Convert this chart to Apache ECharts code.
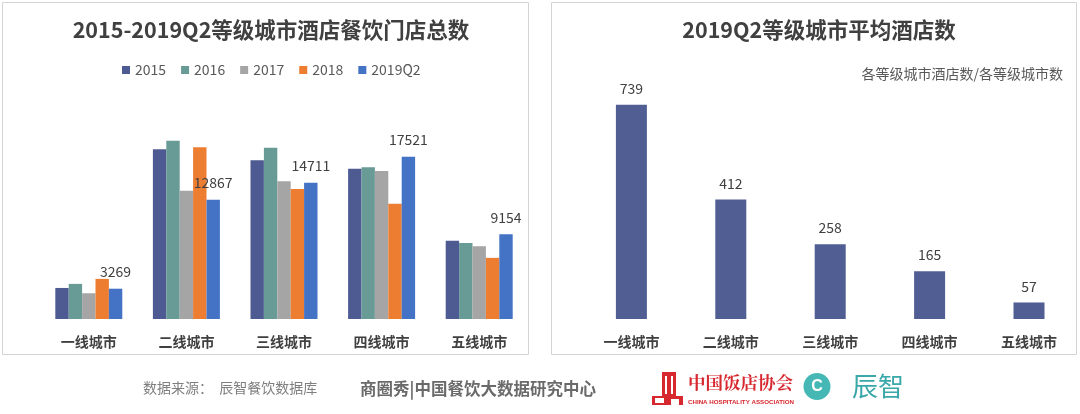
<!DOCTYPE html>
<html><head><meta charset="utf-8">
<script src="https://cdn.jsdelivr.net/npm/echarts@6/dist/echarts.min.js"></script>
<style>html,body{margin:0;padding:0;background:#fff}#c{width:1080px;height:414px}</style>
</head><body><div id="c"></div>
<script>
const categories = ['一线城市','二线城市','三线城市','四线城市','五线城市'];
const seriesNames = ['2015','2016','2017','2018','2019Q2'];
const v2015   = [3350, 18320, 17130, 16220, 8440];
const v2016   = [3790, 19250, 18490, 16370, 8190];
const v2017   = [2780, 13840, 14860, 15970, 7860];
const v2018   = [4330, 18540, 14030, 12440, 6600];
const v2019Q2 = [3269, 12867, 14711, 17521, 9154];
const avgHotels = [739, 412, 258, 165, 57];

const leftTitle = '2015-2019Q2等级城市酒店餐饮门店总数';
const rightTitle = '2019Q2等级城市平均酒店数';
const rightSub = '各等级城市酒店数/各等级城市数';

const F = '"Noto Sans CJK SC", "Noto Sans", sans-serif';
const colors = ['#4e5b92', '#689a96', '#a5a5a5', '#ed7d31', '#4472c4'];
const leftValues = [v2015, v2016, v2017, v2018, v2019Q2];

const chart = echarts.init(document.getElementById('c'), null, {renderer: 'canvas'});

const leftSeries = seriesNames.map((n, i) => ({
  name: n, type: 'bar', xAxisIndex: 0, yAxisIndex: 0,
  data: leftValues[i], barWidth: 13.4, barGap: '0%',
  itemStyle: {color: colors[i]},
  label: i === 4 ? {show: true, position: 'top', distance: 10, color: '#404040', fontSize: 14, fontFamily: F} : {show: false},
  emphasis: {disabled: true}
}));

chart.setOption({
  animation: false,
  textStyle: {fontFamily: F},
  title: [
    {text: leftTitle, left: 266, top: 14, textAlign: 'center',
     textStyle: {fontSize: 21.5, fontWeight: 'bold', color: '#404040', fontFamily: F}},
    {text: rightTitle, left: 814, top: 14, textAlign: 'center',
     textStyle: {fontSize: 21.5, fontWeight: 'bold', color: '#404040', fontFamily: F}},
    {text: rightSub, right: 12, top: 62,
     textStyle: {fontSize: 14, fontWeight: 'normal', color: '#595959', fontFamily: F}}
  ],
  legend: {
    data: seriesNames, left: 117, top: 58, icon: 'rect', itemWidth: 8, itemHeight: 8, itemGap: 15,
    textStyle: {fontSize: 14, color: '#595959', fontFamily: F}, selectedMode: false
  },
  grid: [
    {left: 40, width: 488, top: 133.7, height: 185.3},
    {left: 581.7, width: 497, top: 87, height: 232}
  ],
  xAxis: [
    {type: 'category', gridIndex: 0, data: categories,
     axisLine: {show: false}, axisTick: {show: false},
     axisLabel: {margin: 16, fontSize: 14, fontWeight: 'bold', color: '#404040', fontFamily: F}},
    {type: 'category', gridIndex: 1, data: categories,
     axisLine: {show: false}, axisTick: {show: false},
     axisLabel: {margin: 16, fontSize: 14, fontWeight: 'bold', color: '#404040', fontFamily: F}}
  ],
  yAxis: [
    {type: 'value', gridIndex: 0, min: 0, max: 20000, show: false, splitLine: {show: false}},
    {type: 'value', gridIndex: 1, min: 0, max: 800, show: false, splitLine: {show: false}}
  ],
  series: leftSeries.concat([{
    name: 'avg', type: 'bar', xAxisIndex: 1, yAxisIndex: 1, data: avgHotels,
    barWidth: 31, itemStyle: {color: '#505e94'},
    label: {show: true, position: 'top', distance: 9, color: '#404040', fontSize: 14, fontFamily: F},
    emphasis: {disabled: true}
  }]),
  graphic: [
    {type: 'rect', shape: {x: 2.5, y: 2.5, width: 526, height: 352}, silent: true, z: -1,
     style: {fill: 'none', stroke: '#d4d4d4', lineWidth: 1}},
    {type: 'rect', shape: {x: 551.5, y: 2.5, width: 525, height: 352}, silent: true, z: -1,
     style: {fill: 'none', stroke: '#d4d4d4', lineWidth: 1}},
    {type: 'text', left: 143, top: 381, silent: true,
     style: {text: '数据来源：  辰智餐饮数据库', fontSize: 14, fill: '#7f7f7f', fontFamily: F}},
    {type: 'text', left: 360, top: 380, silent: true,
     style: {text: '商圈秀|中国餐饮大数据研究中心', fontSize: 16.5, fontWeight: 'bold', fill: '#6a6a6a', fontFamily: F}},
    {type: 'group', silent: true, children: [
      {type: 'rect', shape: {x: 662, y: 372, width: 14, height: 24}, style: {fill: '#d7282f'}},
      {type: 'rect', shape: {x: 665, y: 376, width: 2, height: 18}, style: {fill: '#fff'}},
      {type: 'rect', shape: {x: 671, y: 376, width: 2, height: 18}, style: {fill: '#fff'}},
      {type: 'rect', shape: {x: 652, y: 396, width: 31, height: 9}, style: {fill: '#d7282f'}},
      {type: 'rect', shape: {x: 655, y: 398, width: 9, height: 5}, style: {fill: '#fff'}},
      {type: 'rect', shape: {x: 671, y: 399, width: 8, height: 6}, style: {fill: '#fff'}}
    ]},
    {type: 'text', left: 688, top: 374, silent: true,
     style: {text: '中国饭店协会', fontSize: 17.5, fontWeight: 'bold', fill: '#d7282f', fontFamily: '"Noto Serif CJK SC", "Noto Sans CJK SC", serif'}},
    {type: 'text', left: 688, top: 399, silent: true,
     style: {text: 'CHINA HOSPITALITY ASSOCIATION', fontSize: 6.2, fontWeight: 'bold', fill: '#d7282f', fontFamily: '"Liberation Sans", sans-serif'}},
    {type: 'circle', shape: {cx: 817, cy: 386.5, r: 13.5}, silent: true, style: {fill: '#45b8b5'}},
    {type: 'text', x: 817, y: 387, silent: true,
     style: {text: 'C', fontSize: 16, fontWeight: 'bold', fill: '#fff', align: 'center', verticalAlign: 'middle', fontFamily: '"Liberation Sans", sans-serif'}},
    {type: 'text', left: 852, top: 373, silent: true,
     style: {text: '辰智', fontSize: 26, fill: '#3aa7a9', fontFamily: F}}
  ]
});
</script></body></html>
